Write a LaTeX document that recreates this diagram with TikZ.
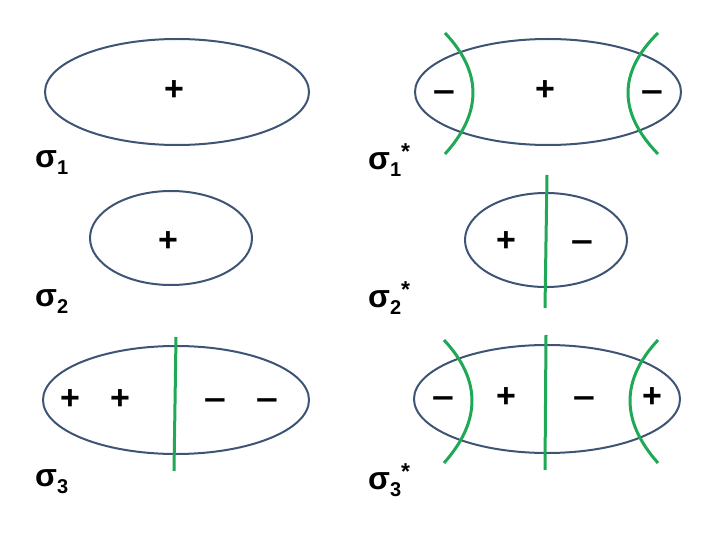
\documentclass[tikz,border=0pt]{standalone}
\usepackage{fontspec}
\setmainfont{Liberation Sans}
\definecolor{ellblue}{HTML}{3E5475}
\definecolor{nodegreen}{HTML}{1FA855}
\tikzset{
  orbit/.style={draw=ellblue, line width=2pt},
  nodal/.style={draw=nodegreen, line width=3pt},
  sign/.style={font=\fontsize{34}{34}\bfseries\selectfont, inner sep=0pt},
  minus/.style={sign, yshift=-4pt, xscale=1.15},
  lab/.style={anchor=base west, inner sep=0pt, font=\fontsize{32}{32}\bfseries\selectfont}
}
\newcommand{\mysub}[1]{\raisebox{-7pt}{\fontsize{20}{20}\bfseries\selectfont #1}}
\newcommand{\mystar}{\raisebox{10pt}{\fontsize{23}{23}\bfseries\selectfont *}}
\begin{document}
\begin{tikzpicture}[x=1pt,y=-1pt]
\useasboundingbox (0,0) rectangle (720,540);
% sigma 1
\draw[orbit] (177,92) ellipse [x radius=132, y radius=53];
\node[sign] (p1) at (174,91) {+};
\node[lab] (l1) at (35,168) {σ\mysub{1}};
% sigma 1*
\draw[orbit] (548,92) ellipse [x radius=133, y radius=53];
\draw[nodal] (445,33) .. controls (482.3,72.3) and (482.3,112.7) .. (445,154);
\draw[nodal] (658,33) .. controls (618,72.3) and (618,112.7) .. (658,154);
\node[minus] (m1a) at (444,92) {–};
\node[sign] (p1b) at (545,91) {+};
\node[minus] (m1c) at (652,92) {–};
\node[lab] (l1s) at (368,170) {σ\mysub{1}\mystar};
% sigma 2
\draw[orbit] (171,238) ellipse [x radius=81, y radius=47];
\node[sign] (p2) at (168,242) {+};
\node[lab] (l2) at (35,306) {σ\mysub{2}};
% sigma 2*
\draw[orbit] (546,240) ellipse [x radius=81, y radius=47];
\coordinate (g2t) at (547,175);
\coordinate (g2b) at (545,308);
\draw[nodal] (g2t) -- (g2b);
\node[sign] (p2b) at (506,242) {+};
\node[minus] (m2b) at (582,242) {–};
\node[lab] (l2s) at (368,307) {σ\mysub{2}\mystar};
% sigma 3
\draw[orbit] (176,400) ellipse [x radius=133, y radius=54];
\coordinate (g3t) at (176,337);
\coordinate (g3b) at (174,471);
\draw[nodal] (g3t) -- (g3b);
\node[sign] (p3a) at (70,400) {+};
\node[sign] (p3b) at (120,400) {+};
\node[minus] (m3c) at (215,400) {–};
\node[minus] (m3d) at (267,400) {–};
\node[lab] (l3) at (35,486) {σ\mysub{3}};
% sigma 3*
\draw[orbit] (547,399) ellipse [x radius=133, y radius=54];
\coordinate (g4t) at (546,335);
\coordinate (g4b) at (545,470);
\draw[nodal] (g4t) -- (g4b);
\draw[nodal] (444,340) .. controls (481.3,380) and (481.3,421) .. (444,463);
\draw[nodal] (658,340) .. controls (620.7,380) and (620.7,421) .. (658,463);
\node[minus] (m4a) at (443,398) {–};
\node[sign] (p4b) at (506,398) {+};
\node[minus] (m4c) at (584,398) {–};
\node[sign] (p4d) at (652,398) {+};
\node[lab] (l3s) at (368,489) {σ\mysub{3}\mystar};
\end{tikzpicture}
\end{document}
